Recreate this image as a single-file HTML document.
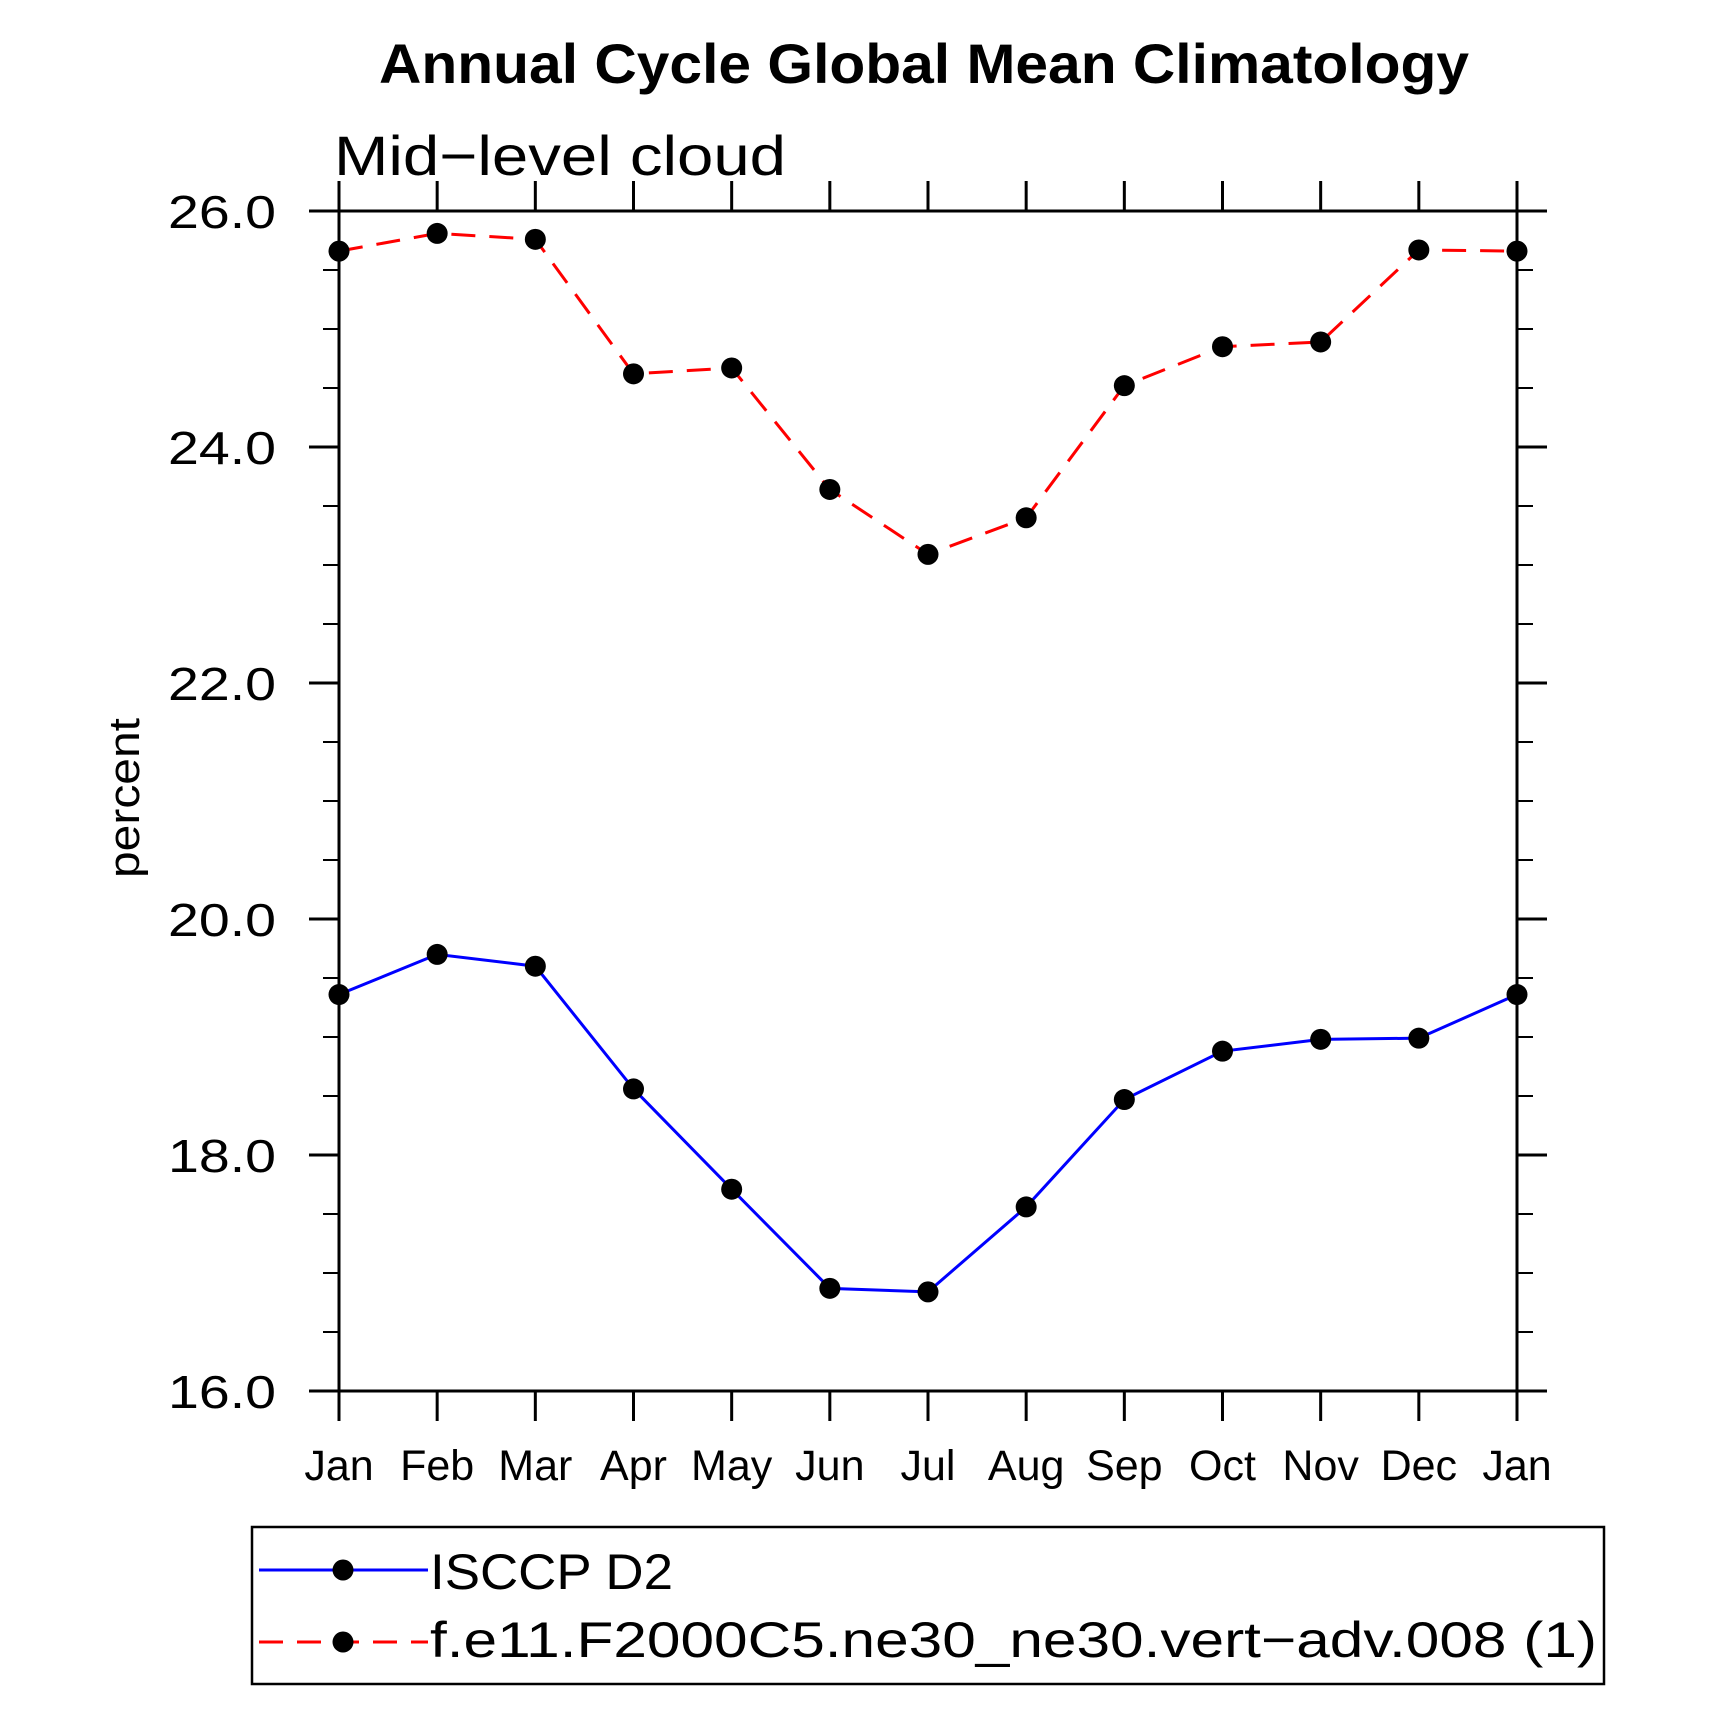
<!DOCTYPE html>
<html><head><meta charset="utf-8"><style>
html,body{margin:0;padding:0;background:#fff;}
svg{display:block;}
text{font-family:"Liberation Sans",sans-serif;fill:#000;}
</style></head><body>
<svg id="chart" width="1710" height="1725" viewBox="0 0 1710 1725" xmlns="http://www.w3.org/2000/svg">
<text x="924" y="83" text-anchor="middle" font-size="56" font-weight="bold" textLength="1090" lengthAdjust="spacingAndGlyphs">Annual Cycle Global Mean Climatology</text>
<text x="334" y="175" font-size="56" textLength="452" lengthAdjust="spacingAndGlyphs">Mid−level cloud</text>
<text transform="translate(139,798) rotate(-90)" text-anchor="middle" font-size="44" textLength="160" lengthAdjust="spacingAndGlyphs">percent</text>
<g id="axes"></g>
<g id="series"></g>
<rect x="252" y="1527" width="1352" height="157" fill="none" stroke="#000" stroke-width="2.5"/>
<line x1="259" y1="1570" x2="428" y2="1570" stroke="#0000ff" stroke-width="3"/>
<circle cx="343" cy="1570" r="10.5" fill="#000"/>
<text x="430" y="1589" font-size="50" textLength="243" lengthAdjust="spacingAndGlyphs">ISCCP D2</text>
<line x1="259" y1="1642" x2="428" y2="1642" stroke="#ff0000" stroke-width="3" stroke-dasharray="24,14"/>
<circle cx="343" cy="1642" r="10.5" fill="#000"/>
<text x="430" y="1657" font-size="50" textLength="1167" lengthAdjust="spacingAndGlyphs">f.e11.F2000C5.ne30_ne30.vert−adv.008 (1)</text>
</svg>
<script>
const months = ["Jan","Feb","Mar","Apr","May","Jun","Jul","Aug","Sep","Oct","Nov","Dec","Jan"];
const isccp = [19.36,19.70,19.60,18.56,17.71,16.87,16.84,17.56,18.47,18.88,18.98,18.99,19.36];
const model = [25.66,25.81,25.76,24.62,24.67,23.64,23.09,23.40,24.52,24.85,24.89,25.67,25.66];
const yTicks = [16,18,20,22,24,26];
const yTickLabels = ["16.0","18.0","20.0","22.0","24.0","26.0"];

const NS = "http://www.w3.org/2000/svg";
const L = 339, R = 1517, T = 211, B = 1391, yMin = 16, yMax = 26;
const xs = i => L + (R - L) * i / (months.length - 1);
const ys = v => B - (B - T) * (v - yMin) / (yMax - yMin);
function mk(tag, attrs, parent) {
  const e = document.createElementNS(NS, tag);
  for (const k in attrs) e.setAttribute(k, attrs[k]);
  parent.appendChild(e);
  return e;
}
const axes = document.getElementById("axes");
const ser = document.getElementById("series");
const sw = 3;
let e;
e = mk("line", {x1: L - 30, y1: T, x2: R + 30, y2: T, stroke: "#000", "stroke-width": sw}, axes);


e = mk("line", {x1: L - 30, y1: B, x2: R + 30, y2: B, stroke: "#000", "stroke-width": sw}, axes);


e = mk("line", {x1: L, y1: T - 30, x2: L, y2: B + 30, stroke: "#000", "stroke-width": sw}, axes);


e = mk("line", {x1: R, y1: T - 30, x2: R, y2: B + 30, stroke: "#000", "stroke-width": sw}, axes);


months.forEach((m, i) => {
  const x = xs(i);
  let t = mk("line", {x1: x, y1: T - 30, x2: x, y2: T, stroke: "#000", "stroke-width": sw}, axes);
  
  
  t = mk("line", {x1: x, y1: B, x2: x, y2: B + 30, stroke: "#000", "stroke-width": sw}, axes);
  
  
  const lb = mk("text", {x: x, y: 1480, "text-anchor": "middle", "font-size": "43"}, axes);
  lb.textContent = m;
  
  
});
yTicks.forEach((v, i) => {
  const y = ys(v);
  let t = mk("line", {x1: L - 30, y1: y, x2: L, y2: y, stroke: "#000", "stroke-width": sw}, axes);
  
  
  t = mk("line", {x1: R, y1: y, x2: R + 30, y2: y, stroke: "#000", "stroke-width": sw}, axes);
  
  
  const lb = mk("text", {x: 168, y: y + 17, "font-size": "46", textLength: "108", lengthAdjust: "spacingAndGlyphs"}, axes);
  lb.textContent = yTickLabels[i];
  
  
});
for (let v = yMin; v <= yMax + 1e-9; v += 0.5) {
  if (Math.abs(v - Math.round(v / 2) * 2) < 1e-6) continue;
  const y = ys(v);
  let t = mk("line", {x1: L - 16, y1: y, x2: L, y2: y, stroke: "#000", "stroke-width": 2}, axes);
  
  
  t = mk("line", {x1: R, y1: y, x2: R + 16, y2: y, stroke: "#000", "stroke-width": 2}, axes);
  
  
}
function drawSeries(vals, color, dash, name) {
  const pts = vals.map((v, i) => xs(i) + "," + ys(v)).join(" ");
  const pl = mk("polyline", {points: pts, fill: "none", stroke: color, "stroke-width": 3}, ser);
  if (dash) pl.setAttribute("stroke-dasharray", dash);
  
  
  vals.forEach((v, i) => {
    const c = mk("circle", {cx: xs(i), cy: ys(v), r: 10.5, fill: "#000"}, ser);
    
    
  });
}
drawSeries(isccp, "#0000ff", null, "isccp");
drawSeries(model, "#ff0000", "24,14", "model");
</script>
</body></html>
